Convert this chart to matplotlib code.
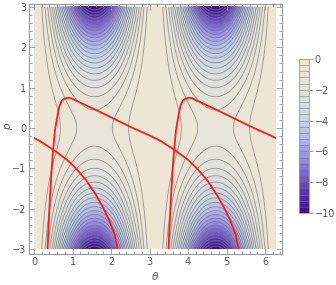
import numpy as np
import matplotlib
matplotlib.use("Agg")
import matplotlib.pyplot as plt
from matplotlib.colors import LinearSegmentedColormap
from matplotlib.patches import Rectangle
from matplotlib.ticker import MultipleLocator

# contour field: value = -(1 + p^2) * sin(theta)^2
theta_range = (0.0, 2 * np.pi)
p_range = (-3.0, 3.0)
levels = np.arange(-10.0, 0.01, 0.4)
cbar_ticks = [0, -2, -4, -6, -8, -10]

# red curve (theta, p); drawn again shifted by pi
curve_theta = [0.35, 0.38, 0.415, 0.46, 0.50, 0.545, 0.59, 0.63, 0.67, 0.72,
               0.78, 0.85, 0.92, 1.00, 1.20, 1.71, 2.50, 3.01, 3.27, 3.66,
               4.00, 4.23, 4.50, 4.75, 4.95, 5.09, 5.24, 5.31]
curve_p = [-3.0, -2.4, -1.71, -1.0, -0.5, -0.05, 0.2, 0.42, 0.57, 0.67,
           0.72, 0.745, 0.75, 0.72, 0.63, 0.40, 0.03, -0.19, -0.31, -0.55,
           -0.79, -1.0, -1.3, -1.66, -2.0, -2.28, -2.65, -3.0]
curve_shifts = [-np.pi, 0.0, np.pi]

colors = ["#36107f", "#5732b0", "#7962d8", "#9b93e6", "#b4bde9",
          "#cbd6e4", "#dcdfdc", "#e6e3d8", "#efe7d5"]
cmap = LinearSegmentedColormap.from_list("mma", colors)

th = np.linspace(*theta_range, 500)
pp = np.linspace(*p_range, 500)
T, P = np.meshgrid(th, pp)
Z = -(1 + P ** 2) * np.sin(T) ** 2

fig = plt.figure(figsize=(3.36, 2.85), dpi=100)
ax = fig.add_axes([29 / 336, 31 / 285, 253 / 336, 250 / 285])
cf = ax.contourf(T, P, Z, levels=levels, cmap=cmap)
ax.contour(T, P, Z, levels=levels[:-1], colors="#707070", linewidths=0.65,
           alpha=0.65, linestyles="solid")

clip = Rectangle((0, -3), 2 * np.pi, 6, transform=ax.transData)
for s in curve_shifts:
    ln, = ax.plot(np.array(curve_theta) + s, curve_p, color="#ff1a1a", lw=1.3)
    ln.set_clip_path(clip)

ax.set_xlim(-0.13, 2 * np.pi + 0.156)
ax.set_ylim(-3.124, 3.074)

grey = "#999999"
for sp in ax.spines.values():
    sp.set_color(grey)
    sp.set_linewidth(0.8)
ax.xaxis.set_major_locator(MultipleLocator(1))
ax.xaxis.set_minor_locator(MultipleLocator(0.2))
ax.yaxis.set_major_locator(MultipleLocator(1))
ax.yaxis.set_minor_locator(MultipleLocator(0.2))
ax.tick_params(which="both", direction="in", top=True, right=True, color=grey,
               labelcolor="#555555", labelsize=7, width=0.6)
ax.tick_params(which="major", length=4, pad=2)
ax.tick_params(which="minor", length=2)
ax.set_xticks(range(0, 7))
ax.set_yticks(range(-3, 4))
ax.set_yticklabels(["\u22123", "\u22122", "\u22121", "0", "1", "2", "3"])

fig.text(8 / 336, 1 - 127 / 285, "p", rotation=90, ha="center", va="center",
         fontsize=7.5, style="italic", color="#555555")
fig.text(155 / 336, 1 - 277 / 285, "\u03b8", ha="center", va="center",
         fontsize=7.5, style="italic", color="#555555")

cax = fig.add_axes([299 / 336, 72 / 285, 10 / 336, 154 / 285])
cb = fig.colorbar(cf, cax=cax)
cb.set_ticks(cbar_ticks)
cb.set_ticklabels(["0", "\u22122", "\u22124", "\u22126", "\u22128", "\u221210"])
cb.outline.set_edgecolor(grey)
cb.outline.set_linewidth(0.6)
for lv in levels[1:-1]:
    cax.axhline(lv, color="#777777", lw=0.5, alpha=0.7)
cax.tick_params(which="both", direction="out", length=3, color=grey,
                labelcolor="#555555", labelsize=7, width=0.6, pad=1)
cax.minorticks_off()

fig.savefig("out.png", dpi=100)
